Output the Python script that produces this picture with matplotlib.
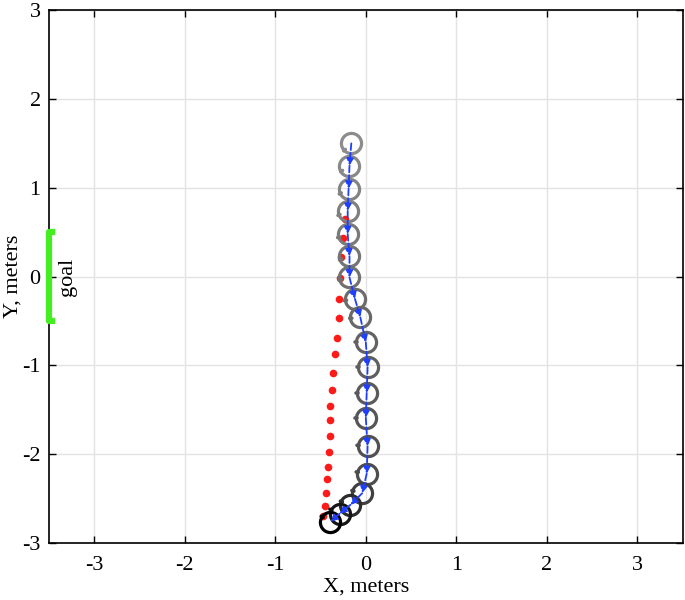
import numpy as np
import matplotlib
matplotlib.use('Agg')
import matplotlib.pyplot as plt

plt.rcParams['font.family'] = ['Liberation Serif', 'DejaVu Serif']
plt.rcParams['axes.unicode_minus'] = False

# robot positions (top to bottom)
robot_x = [-0.16, -0.18, -0.19, -0.20, -0.20, -0.18, -0.18, -0.12, -0.06, 0.0,
           0.02, 0.01, 0.0, 0.02, 0.01, -0.04, -0.17, -0.29, -0.39]
robot_y = [1.50, 1.25, 0.99, 0.74, 0.48, 0.23, -0.01, -0.25, -0.46, -0.74,
           -1.02, -1.31, -1.59, -1.91, -2.22, -2.44, -2.57, -2.67, -2.76]
# heading marks on circles, degrees
robot_head = [225, 215, 210, 205, 200, 200, 195, 190, 185, 180,
              180, 180, 180, 175, 170, 165, 160, 155, 150]

# red dotted path
ref_x = [-0.23, -0.25, -0.27, -0.29, -0.30, -0.30, -0.32, -0.34, -0.36, -0.37,
         -0.39, -0.39, -0.40, -0.41, -0.42, -0.43, -0.44, -0.45, -0.47]
ref_y = [0.65, 0.43, 0.22, -0.02, -0.25, -0.47, -0.69, -0.87, -1.09, -1.28,
         -1.46, -1.62, -1.79, -1.97, -2.14, -2.28, -2.44, -2.58, -2.70]

goal_x = -3.5
goal_y = [-0.5, 0.5]

fig = plt.figure(figsize=(6.85, 6.0), dpi=100)
ax = fig.add_axes([0.0715, 0.095, 0.925, 0.888])

ax.set_xlim(-3.5, 3.5)
ax.set_ylim(-3, 3)
ax.set_xticks(range(-3, 4))
ax.set_yticks(range(-3, 4))
ax.grid(True, color='#e3e3e3', linewidth=1.0)
ax.set_axisbelow(True)
ax.tick_params(direction='in', top=True, right=True, labelsize=16, length=5, width=1)
ax.tick_params(axis='x', pad=9)
ax.tick_params(axis='y', pad=6)
for s in ax.spines.values():
    s.set_linewidth(1.2)

ax.set_xlabel('X, meters', fontsize=16, labelpad=2)
ax.set_ylabel('Y, meters', fontsize=16, labelpad=0)

# red path
ax.plot(ref_x, ref_y, 'o', color='#ff1a1a', markersize=5.5, markeredgewidth=0, zorder=3)

# robot circles
n = len(robot_x)
greys = np.concatenate([np.linspace(0.55, 0.3, n - 4), np.linspace(0.25, 0.0, 4)])
rx, ry = 0.105, 0.105 * 90 / 88.8
for i in range(n):
    c = str(greys[i])
    ax.plot(robot_x[i], robot_y[i], 'o', markersize=14.5, markerfacecolor='none',
            markeredgecolor=c, markeredgewidth=2.3, zorder=4)
    a = np.deg2rad(robot_head[i])
    ax.plot([robot_x[i] + 0.9 * rx * np.cos(a), robot_x[i] + 1.12 * rx * np.cos(a)],
            [robot_y[i] + 0.9 * ry * np.sin(a), robot_y[i] + 1.12 * ry * np.sin(a)],
            color=c, linewidth=2.6, solid_capstyle='round', zorder=4)

# blue arrows between positions
for i in range(n - 1):
    ax.annotate('', xy=(robot_x[i + 1], robot_y[i + 1]), xytext=(robot_x[i], robot_y[i]),
                arrowprops=dict(arrowstyle='-|>', color='#1f3fff', linestyle='--', lw=1.3,
                                mutation_scale=10, shrinkA=0, shrinkB=0), zorder=5)

# goal
ax.plot([goal_x + 0.03, goal_x, goal_x, goal_x + 0.03],
        [goal_y[0], goal_y[0], goal_y[1], goal_y[1]],
        color='#44ee22', linewidth=4.5, clip_on=False, zorder=6)
ax.text(-3.3, 0, 'goal', rotation=90, fontsize=16, ha='center', va='center')

fig.savefig('out.png', dpi=100)
